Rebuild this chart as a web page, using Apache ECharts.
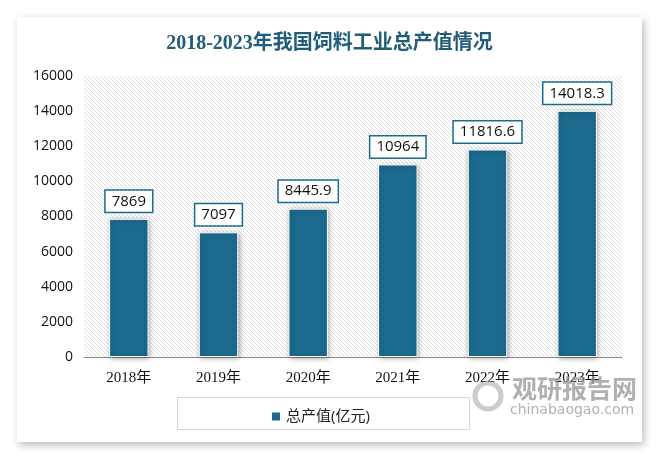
<!DOCTYPE html>
<html><head><meta charset="utf-8">
<script src="https://cdn.jsdelivr.net/npm/echarts@6/dist/echarts.min.js"></script>
<style>html,body{margin:0;padding:0;background:#fff}#c{width:659px;height:458px}</style>
</head><body><div id="c"></div>
<script>
var categories = ['2018年','2019年','2020年','2021年','2022年','2023年'];
var values = [7869, 7097, 8445.9, 10964, 11816.6, 14018.3];
var seriesName = '总产值(亿元)';
var titleText = '2018-2023年我国饲料工业总产值情况';

var pc = document.createElement('canvas');
pc.width = 4; pc.height = 4;
var pctx = pc.getContext('2d');
pctx.fillStyle = '#ffffff'; pctx.fillRect(0,0,4,4);
pctx.fillStyle = '#dedede';
for (var i = 0; i < 4; i++) pctx.fillRect(i, i, 1, 1);

var chart = echarts.init(document.getElementById('c'));
var numFont = '"Open Sans", "Noto Sans CJK SC", sans-serif';
var serifFont = '"Liberation Serif", "Noto Sans CJK SC", serif';
chart.setOption({
  animation: false,
  title: {
    text: titleText, left: 'center', top: 29,
    textStyle: {fontFamily: serifFont, fontSize: 20, fontWeight: 'bold', color: '#215d78'}
  },
  graphic: [
    {type: 'rect', z: -10, shape: {x: 17, y: 17, width: 625, height: 425},
     style: {fill: '#fff', shadowBlur: 8, shadowColor: 'rgba(0,0,0,0.28)', shadowOffsetX: 2, shadowOffsetY: 3}},
    {type: 'rect', z: 1, shape: {x: 177.5, y: 397.5, width: 292, height: 32},
     style: {fill: 'none', stroke: '#d6d6d6', lineWidth: 1}},
    {type: 'text', z: 100, left: 512, top: 376,
     style: {text: '观研报告网', font: 'bold 25px "Noto Sans CJK SC"', fill: 'rgba(150,150,150,0.75)'}},
    {type: 'text', z: 100, left: 510, top: 403,
     style: {text: 'chinabaogao.com', font: '14px "DejaVu Sans"', fill: 'rgba(150,150,150,0.75)'}},
    {type: 'circle', z: 100, shape: {cx: 488, cy: 396, r: 13},
     style: {fill: 'none', stroke: 'rgba(170,170,170,0.6)', lineWidth: 5}}
  ],
  legend: {
    data: [seriesName], left: 265, top: 404, icon: 'rect', itemWidth: 10, itemHeight: 10, itemGap: 6,
    textStyle: {fontFamily: numFont, fontSize: 15, color: '#222'}
  },
  grid: {
    left: 84, right: 37, top: 76, bottom: 101, show: true, borderWidth: 0,
    backgroundColor: {image: pc, repeat: 'repeat'}
  },
  xAxis: {
    type: 'category', data: categories,
    axisLine: {lineStyle: {color: '#8c8c8c', width: 1}},
    axisTick: {show: false},
    axisLabel: {fontFamily: serifFont, fontSize: 15, color: '#111', margin: 14}
  },
  yAxis: {
    type: 'value', min: 0, max: 16000, interval: 2000,
    axisLine: {show: false}, axisTick: {show: false}, splitLine: {show: false},
    axisLabel: {fontFamily: numFont, fontSize: 14, color: '#111', margin: 11,
      formatter: function (v) { return String(v); }}
  },
  series: [{
    name: seriesName, type: 'bar', data: values, barWidth: '44%',
    itemStyle: {color: '#1c6a8d', borderColor: '#ffffff', borderWidth: 1,
      shadowBlur: 5, shadowColor: 'rgba(0,0,0,0.35)', shadowOffsetX: 1, shadowOffsetY: 1},
    label: {
      show: true, position: 'top', distance: 7,
      fontFamily: numFont, fontSize: 15, color: '#111',
      backgroundColor: '#fff', borderColor: '#1c6a8d', borderWidth: 1.5,
      padding: [3, 6, 3, 6]
    }
  }]
});
</script></body></html>
